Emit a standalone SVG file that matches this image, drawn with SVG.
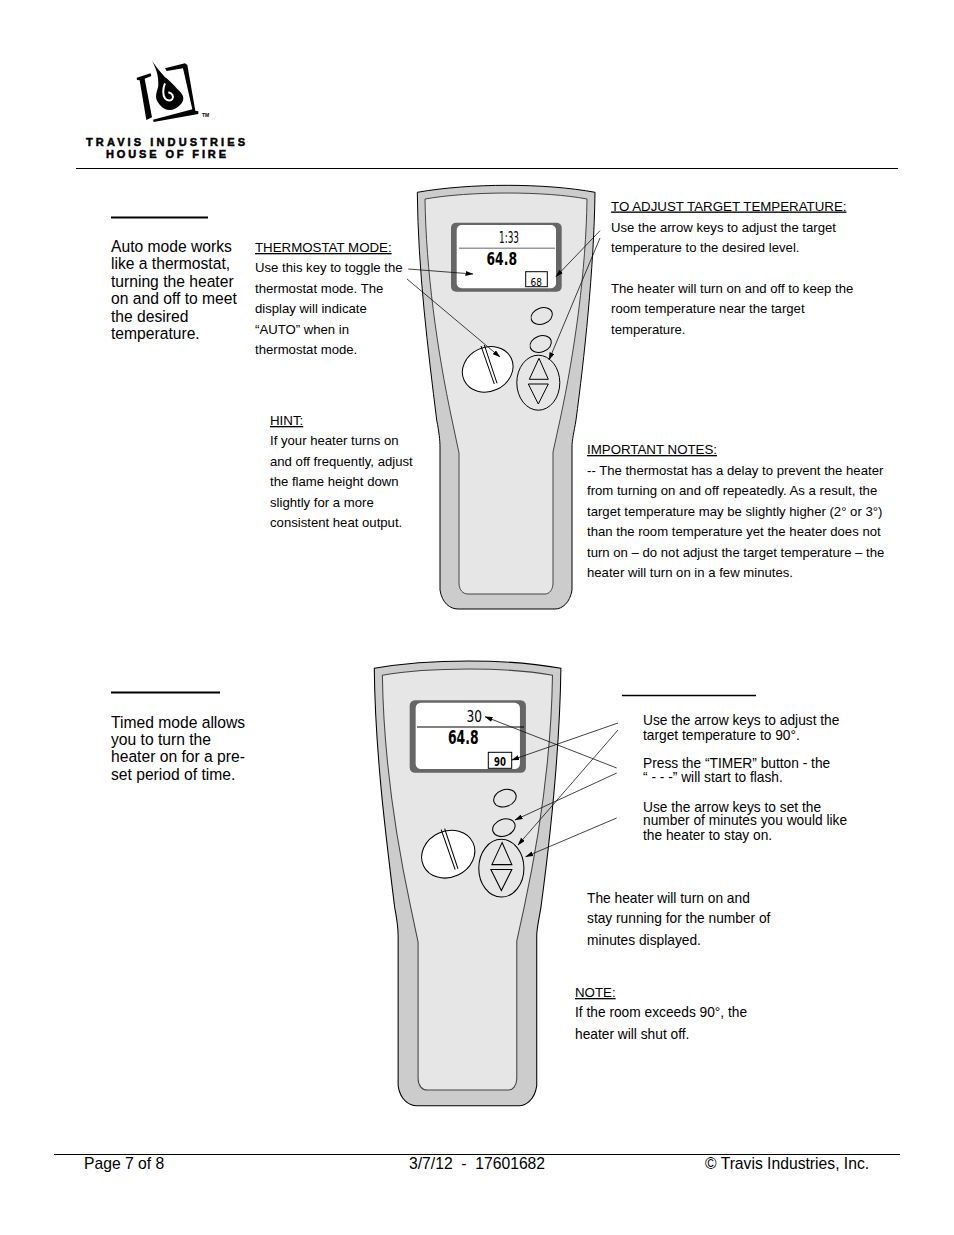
<svg xmlns="http://www.w3.org/2000/svg" width="954" height="1235" viewBox="0 0 954 1235">
<style>
text{font-family:"Liberation Sans",Arial,sans-serif;fill:#000}
.b{font-size:15.65px}
.s{font-size:13.15px}
.u{text-decoration:underline;font-size:13.3px}
.m{font-size:13.75px}
.f{font-size:15.7px}
.lcd{font-family:"DejaVu Sans",sans-serif}
.rule{stroke:#000;fill:none}
.c{stroke:#111;stroke-width:.8;fill:none;marker-end:url(#ah)}
</style>
<defs>
<marker id="ah" markerWidth="8" markerHeight="5" refX="7.500" refY="2.500" orient="auto" markerUnits="userSpaceOnUse"><path d="M0 0L8 2.500L0 5Z" fill="#000"/></marker>
<g id="body">
<path d="M417.3 192.3C470 183 545 183 595 192.3C594 270 584 360 576 420C574 432 572 440 572 447V590C570 603 562 609 555 609H458C450 609 442 603 440 590V447C440 440 439 432 436.7 420C428 350 418 270 417.3 192.3Z" fill="#ccc" stroke="#000" stroke-width="1"/>
<path d="M425 199C470 191 545 191 587 199C586 270 575 350 560 420L553 452V583C553 590 549 594 545 594H468C463 594 459 590 459 583V453L452 420C437 350 426 270 425 199Z" fill="#e6e6e6" stroke="#444" stroke-width="1"/>
<rect x="451" y="222.7" width="110.7" height="69" rx="5" fill="#666"/>
<rect x="456.7" y="225" width="99.300" height="63.300" rx="5" fill="#fff"/>
<ellipse cx="541.700" cy="316" rx="11" ry="8" transform="rotate(-20 541.700 316)" fill="#e6e6e6" stroke="#000"/>
<ellipse cx="540.700" cy="344" rx="11" ry="8" transform="rotate(-20 540.700 344)" fill="#e6e6e6" stroke="#000"/>
<ellipse cx="487.700" cy="369.300" rx="26" ry="22" transform="rotate(-25 487.700 369.300)" fill="#fff" stroke="#000"/>
<path d="M481 346L494.300 384M484.300 345L497 383.300" stroke="#000" fill="none"/>
<ellipse cx="538.300" cy="382.700" rx="21.500" ry="27.500" fill="#e6e6e6" stroke="#000"/>
<path d="M539 358.300L529.300 379.300H548.300Z M528.300 384H548.300L538.300 404Z" fill="#e6e6e6" stroke="#000"/>
</g>
</defs>

<g id="logo" transform="translate(70 40) scale(.3333)">
<path d="M200 113L242 100L244 108L224 116L246 232L229 240L209 121L201 120Z"/>
<path d="M285 85L345 70L352 75L376 212L385 214L385 222L251 246L249 239L367 208L339 85L290 93Z"/>
<path d="M245 60C258 80 268 92 275 100C282 108 285 112 290 115C300 125 312 135 320 145C332 157 340 165 340 175C340 185 335 191 330 195C320 205 310 210 300 210C288 210 280 205 275 200C265 190 258 180 258 170C258 155 265 145 265 135C265 120 264 108 260 95C256 82 250 70 245 60Z"/>
<path d="M285 130C278 145 278 165 285 175C292 183 303 183 307 177C312 170 308 160 295 157" fill="none" stroke="#fff" stroke-width="6"/>
</g>
<text id="logo-tm" x="202" y="117" font-size="5" font-weight="700">TM</text>
<g id="logo-text" font-weight="700" font-size="11" stroke="#000" stroke-width=".5">
<text x="86" y="146" textLength="159">TRAVIS INDUSTRIES</text>
<text x="106" y="157.500" textLength="120">HOUSE OF FIRE</text>
</g>

<path id="header-rule" class="rule" d="M76 168.500H898"/>
<path id="footer-rule" class="rule" d="M54 1154.500H900"/>
<path id="auto-rule" class="rule" stroke-width="2" d="M111 217.500H208"/>
<path id="timed-rule" class="rule" stroke-width="2" d="M111 692.500H220"/>
<path id="steps-rule" class="rule" stroke-width="1.500" d="M622 695.500H756"/>

<g id="remote-auto">
<use href="#body"/>
<path d="M459 248.300H555" stroke="#999" stroke-width="1.500"/>
<text class="lcd" x="499" y="242.700" font-size="15" textLength="20" lengthAdjust="spacingAndGlyphs">1:33</text>
<text class="lcd" x="486.500" y="265" font-size="18.500" font-weight="700" textLength="30.500" lengthAdjust="spacingAndGlyphs">64.8</text>
<rect x="525.700" y="271.700" width="21.600" height="15" fill="#fff" stroke="#000"/>
<text class="lcd" x="530.500" y="285.700" font-size="11" textLength="11.500" lengthAdjust="spacingAndGlyphs">68</text>
</g>

<g id="remote-timed">
<use href="#body" transform="translate(374.300 668.300) scale(1.05) translate(-417.300 -192.300)"/>
<path d="M417 727H524" stroke="#000"/>
<text class="lcd" x="466.500" y="721.700" font-size="15" textLength="15.500" lengthAdjust="spacingAndGlyphs">30</text>
<text class="lcd" x="448" y="744.300" font-size="19.500" font-weight="700" textLength="30.500" lengthAdjust="spacingAndGlyphs">64.8</text>
<rect x="488.300" y="752.300" width="23.400" height="16" fill="#fff" stroke="#000"/>
<text class="lcd" x="494" y="765.700" font-size="11.500" font-weight="700" textLength="12" lengthAdjust="spacingAndGlyphs">90</text>
</g>

<g id="connectors">
<path class="c" d="M408.300 269L473 274"/>
<path class="c" d="M407 279L500 357"/>
<path class="c" d="M600 230.700L556 276.700"/>
<path class="c" d="M600 238L549 360"/>
<path class="c" d="M618 723L511.700 760"/>
<path class="c" d="M618 730L518 845"/>
<path class="c" d="M616.700 768L485 716.700"/>
<path class="c" d="M616.700 773L515 820"/>
<path class="c" d="M616.700 818L525.700 856.700"/>
</g>

<g id="auto-intro" class="b">
<text x="111" y="252">Auto mode works</text>
<text x="111" y="269">like a thermostat,</text>
<text x="111" y="287">turning the heater</text>
<text x="111" y="304">on and off to meet</text>
<text x="111" y="322">the desired</text>
<text x="111" y="339">temperature.</text>
</g>
<g id="thermostat-note" class="s">
<text class="u" x="255" y="252">THERMOSTAT MODE:</text>
<text x="255" y="272">Use this key to toggle the</text>
<text x="255" y="293">thermostat mode.  The</text>
<text x="255" y="313">display will indicate</text>
<text x="255" y="334">“AUTO” when in</text>
<text x="255" y="354">thermostat mode.</text>
</g>
<g id="hint-note" class="s">
<text class="u" x="270" y="425">HINT:</text>
<text x="270" y="445">If your heater turns on</text>
<text x="270" y="465.500">and off frequently, adjust</text>
<text x="270" y="486">the flame height down</text>
<text x="270" y="506.500">slightly for a more</text>
<text x="270" y="527">consistent heat output.</text>
</g>
<g id="target-note" class="s">
<text class="u" x="611" y="210.500">TO ADJUST TARGET TEMPERATURE:</text>
<text x="611" y="232">Use the arrow keys to adjust the target</text>
<text x="611" y="252">temperature to the desired level.</text>
<text x="611" y="293">The heater will turn on and off to keep the</text>
<text x="611" y="313">room temperature near the target</text>
<text x="611" y="334">temperature.</text>
</g>
<g id="important-note" class="s">
<text class="u" x="587" y="454">IMPORTANT NOTES:</text>
<text x="587" y="475">-- The thermostat has a delay to prevent the heater</text>
<text x="587" y="495">from turning on and off repeatedly.  As a result, the</text>
<text x="587" y="516">target temperature may be slightly higher (2° or 3°)</text>
<text x="587" y="536">than the room temperature yet the heater does not</text>
<text x="587" y="557">turn on – do not adjust the target temperature – the</text>
<text x="587" y="577">heater will turn on in a few minutes.</text>
</g>
<g id="timed-intro" class="b">
<text x="111" y="728">Timed mode allows</text>
<text x="111" y="745">you to turn the</text>
<text x="111" y="762">heater on for a pre-</text>
<text x="111" y="780">set period of time.</text>
</g>
<g id="timed-steps" class="m">
<text x="643" y="725">Use the arrow keys to adjust the</text>
<text x="643" y="740">target temperature to 90°.</text>
<text x="643" y="767.500">Press the “TIMER” button - the</text>
<text x="643" y="782">“ - - -” will start to flash.</text>
<text x="643" y="812">Use the arrow keys to set the</text>
<text x="643" y="825">number of minutes you would like</text>
<text x="643" y="840">the heater to stay on.</text>
</g>
<g id="running-note" class="m">
<text x="587" y="903">The heater will turn on and</text>
<text x="587" y="923">stay running for the number of</text>
<text x="587" y="945">minutes displayed.</text>
</g>
<g id="shutoff-note" class="m">
<text class="u" x="575" y="997">NOTE:</text>
<text x="575" y="1017">If the room exceeds 90°, the</text>
<text x="575" y="1039">heater will shut off.</text>
</g>
<g id="footer" class="f">
<text x="84" y="1169">Page 7 of 8</text>
<text x="409" y="1169" xml:space="preserve">3/7/12  -  17601682</text>
<text x="705" y="1169">© Travis Industries, Inc.</text>
</g>
</svg>
